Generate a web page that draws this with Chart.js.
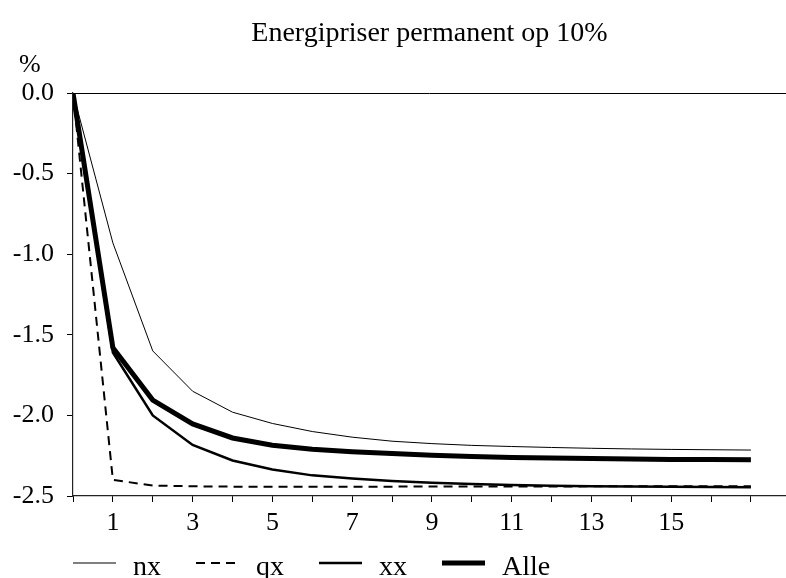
<!DOCTYPE html>
<html><head><meta charset="utf-8">
<script src="https://cdn.jsdelivr.net/npm/chart.js@4/dist/chart.umd.min.js"></script>
<style>html,body{margin:0;padding:0;background:#fff}#wrap{width:786px;height:578px}</style>
</head><body><div id="wrap"><canvas id="c" width="786" height="578"></canvas></div>
<script>
const chartTitle = 'Energipriser permanent op 10%';
const unitLabel = '%';
const periods = [0,1,2,3,4,5,6,7,8,9,10,11,12,13,14,15,16,17];
const seriesNames = ['nx','qx','xx','Alle'];
const nx   = [0,-0.93,-1.60,-1.85,-1.98,-2.05,-2.10,-2.135,-2.16,-2.175,-2.186,-2.193,-2.199,-2.204,-2.208,-2.211,-2.213,-2.215];
const qx   = [0,-2.40,-2.435,-2.44,-2.442,-2.442,-2.442,-2.442,-2.442,-2.441,-2.441,-2.441,-2.441,-2.440,-2.440,-2.440,-2.440,-2.440];
const xx   = [0,-1.61,-2.00,-2.183,-2.28,-2.335,-2.372,-2.392,-2.407,-2.418,-2.426,-2.432,-2.436,-2.439,-2.441,-2.443,-2.444,-2.445];
const alle = [0,-1.58,-1.905,-2.053,-2.14,-2.185,-2.21,-2.225,-2.237,-2.247,-2.255,-2.261,-2.265,-2.268,-2.271,-2.273,-2.274,-2.275];
const yTicks = [0,-0.5,-1.0,-1.5,-2.0,-2.5];
const xLabelTicks = [1,3,5,7,9,11,13,15];

const toPts = arr => periods.map((p,i)=>({x:p,y:arr[i]}));
const SERIF = '"Liberation Serif", "Times New Roman", serif';

const decorPlugin = {
  id:'decor',
  afterDraw(chart){
    const ctx = chart.ctx, ca = chart.chartArea;
    ctx.save();
    ctx.fillStyle = '#000';
    ctx.textBaseline = 'alphabetic';
    ctx.font = '28px ' + SERIF;
    ctx.textAlign = 'center';
    ctx.fillText(chartTitle, (ca.left+ca.right)/2, 41);
    ctx.font = '26px ' + SERIF;
    ctx.textAlign = 'left';
    ctx.fillText(unitLabel, 19, 72);
    // legend
    let x = ca.left;
    const lineY = 563, textY = 575;
    ctx.font = '28px ' + SERIF;
    chart.data.datasets.forEach(ds=>{
      ctx.beginPath();
      ctx.setLineDash(ds.borderDash || []);
      ctx.lineWidth = ds.borderWidth;
      ctx.strokeStyle = ds.borderColor;
      ctx.moveTo(x, lineY); ctx.lineTo(x+43, lineY); ctx.stroke();
      ctx.setLineDash([]);
      ctx.fillStyle = '#000';
      ctx.fillText(ds.label, x+60, textY);
      x += 60 + ctx.measureText(ds.label).width + 35;
    });
    ctx.restore();
  }
};

new Chart(document.getElementById('c'), {
  type:'line',
  data:{ datasets:[
    {label:seriesNames[0], data:toPts(nx), borderColor:'#000', borderWidth:1, pointRadius:0, tension:0},
    {label:seriesNames[1], data:toPts(qx), borderColor:'#000', borderWidth:2, borderDash:[9,6], pointRadius:0, tension:0},
    {label:seriesNames[2], data:toPts(xx), borderColor:'#000', borderWidth:2.5, pointRadius:0, tension:0},
    {label:seriesNames[3], data:toPts(alle), borderColor:'#000', borderWidth:5, pointRadius:0, tension:0}
  ]},
  options:{
    responsive:false, animation:false, devicePixelRatio:1,
    layout:{padding:{top:93,bottom:42,left:0,right:0}},
    plugins:{legend:{display:false}, title:{display:false}, tooltip:{enabled:false}},
    scales:{
      x:{type:'linear', min:0, max:17.88,
        afterFit(s){ s.height = 40; },
        ticks:{stepSize:1, includeBounds:false, autoSkip:false, maxRotation:0, color:'#000', padding:6,
          font:{family:SERIF, size:26},
          callback:v => xLabelTicks.includes(v) ? String(v) : ''},
        grid:{drawOnChartArea:false, drawTicks:true, tickLength:6, tickColor:'#000'},
        border:{color:'#222', width:1.2}
      },
      y:{min:-2.5, max:0,
        afterFit(s){ s.width = 73; },
        afterBuildTicks(s){ s.ticks = yTicks.map(v=>({value:v})); },
        ticks:{color:'#000', padding:13, font:{family:SERIF, size:26},
          callback:v => Number(v).toFixed(1)},
        grid:{drawOnChartArea:true, tickLength:6, tickColor:'#000',
          color:c => (c.tick && c.tick.value===0) ? '#000' : 'rgba(0,0,0,0)'},
        border:{color:'#222', width:1.2}
      }
    }
  },
  plugins:[decorPlugin]
});
</script></body></html>
